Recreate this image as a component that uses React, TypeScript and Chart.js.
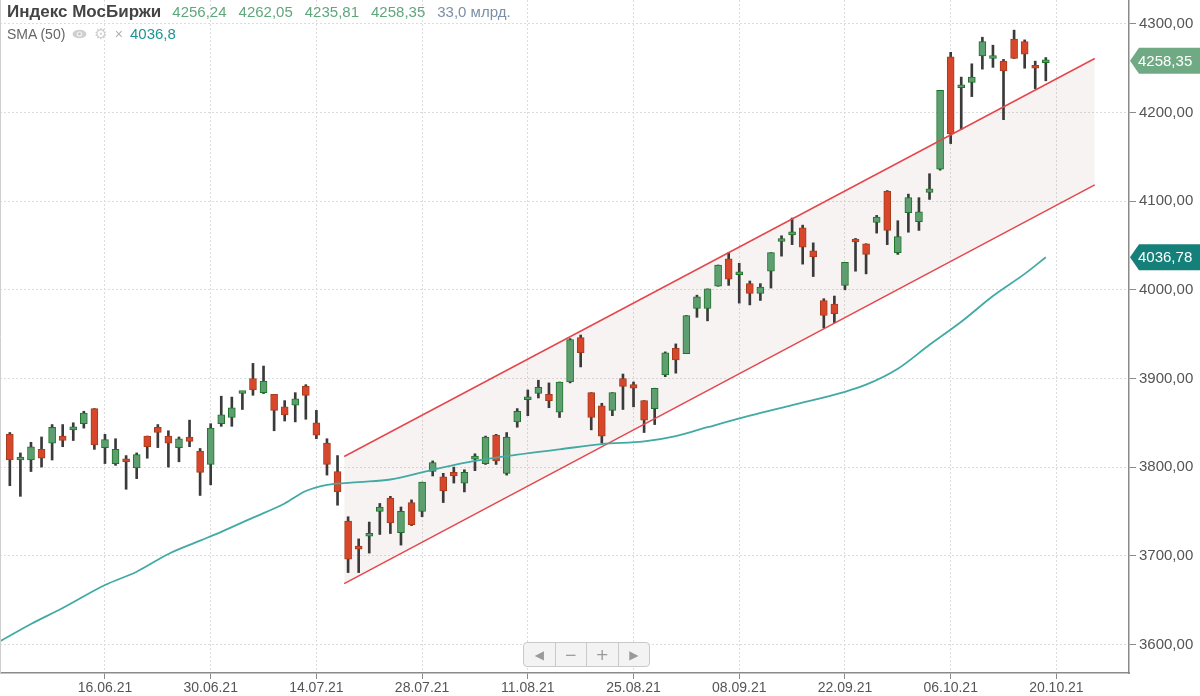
import { useEffect, useRef } from "react"
import { Chart, registerables } from "chart.js"

Chart.register(...registerables)

// trading days, index 0..99 (last one has no candle yet)
const dates = [
  "02.06.21", "03.06.21", "04.06.21", "07.06.21", "08.06.21", "09.06.21", "10.06.21", "11.06.21", "15.06.21", "16.06.21",
  "17.06.21", "18.06.21", "21.06.21", "22.06.21", "23.06.21", "24.06.21", "25.06.21", "28.06.21", "29.06.21", "30.06.21",
  "01.07.21", "02.07.21", "05.07.21", "06.07.21", "07.07.21", "08.07.21", "09.07.21", "12.07.21", "13.07.21", "14.07.21",
  "15.07.21", "16.07.21", "19.07.21", "20.07.21", "21.07.21", "22.07.21", "23.07.21", "26.07.21", "27.07.21", "28.07.21",
  "29.07.21", "30.07.21", "02.08.21", "03.08.21", "04.08.21", "05.08.21", "06.08.21", "09.08.21", "10.08.21", "11.08.21",
  "12.08.21", "13.08.21", "16.08.21", "17.08.21", "18.08.21", "19.08.21", "20.08.21", "23.08.21", "24.08.21", "25.08.21",
  "26.08.21", "27.08.21", "30.08.21", "31.08.21", "01.09.21", "02.09.21", "03.09.21", "06.09.21", "07.09.21", "08.09.21",
  "09.09.21", "10.09.21", "13.09.21", "14.09.21", "15.09.21", "16.09.21", "17.09.21", "20.09.21", "21.09.21", "22.09.21",
  "23.09.21", "24.09.21", "27.09.21", "28.09.21", "29.09.21", "30.09.21", "01.10.21", "04.10.21", "05.10.21", "06.10.21",
  "07.10.21", "08.10.21", "11.10.21", "12.10.21", "13.10.21", "14.10.21", "15.10.21", "18.10.21", "19.10.21", "20.10.21",
]

const opens = [
  3837, 3808, 3808, 3820, 3827, 3835, 3842, 3849, 3866, 3822,
  3804, 3809, 3799, 3835, 3845, 3835, 3822, 3834, 3818, 3803,
  3849, 3856, 3883, 3900, 3884, 3882, 3868, 3870, 3891, 3850,
  3827, 3795, 3739, 3710, 3722, 3750, 3765, 3726, 3760, 3750,
  3795, 3789, 3794, 3782, 3809, 3804, 3836, 3793, 3851, 3876,
  3883, 3882, 3862, 3896, 3946, 3884, 3869, 3864, 3900, 3893,
  3875, 3866, 3904, 3934, 3928, 3979, 3979, 4004, 4035, 4017,
  4007, 3996, 4021, 4054.5, 4062, 4070, 4044, 3988, 3984, 4005,
  4057, 4052, 4076, 4111, 4042, 4087, 4077, 4110, 4136, 4263,
  4228, 4234, 4264, 4261, 4258, 4283, 4280, 4251.5, 4256.24,
]
const highs = [
  3839, 3816, 3828, 3834, 3848, 3848, 3850, 3863, 3866, 3837,
  3832, 3813, 3816, 3835, 3848, 3841, 3834, 3853, 3821, 3849,
  3880, 3879, 3885, 3917, 3914, 3882, 3875, 3884, 3893, 3864,
  3832, 3813, 3744, 3719, 3738, 3759, 3767, 3755, 3763, 3783,
  3807, 3793, 3800, 3797, 3815, 3835, 3837, 3839, 3866, 3887,
  3898, 3895, 3896, 3945, 3949, 3884, 3872, 3884, 3905, 3896,
  3875, 3889, 3930, 3939, 3971, 3994, 4001, 4028, 4042, 4030,
  4010, 4007, 4042, 4061, 4081, 4073, 4053, 3990, 3993, 4031,
  4058, 4052, 4084, 4112, 4078, 4108, 4104, 4131, 4225, 4268,
  4240, 4255, 4285, 4276, 4260, 4293, 4282, 4258, 4262.05,
]
const lows = [
  3779, 3767, 3795, 3800, 3808, 3823, 3830, 3844, 3820, 3804,
  3802, 3775, 3787, 3810, 3822, 3800, 3806, 3823, 3768, 3780,
  3846, 3846, 3865, 3881, 3883, 3841, 3852, 3851, 3854, 3832,
  3791, 3757, 3681, 3681, 3703, 3724, 3725, 3712, 3734, 3744,
  3790, 3760, 3782, 3772, 3796, 3803, 3803, 3791, 3845, 3858,
  3878, 3867, 3856, 3895, 3913, 3842, 3827, 3858, 3865, 3868,
  3839, 3848, 3902, 3906, 3928, 3969, 3965, 4004, 4005, 3985,
  3983, 3988, 4002, 4038, 4051, 4029, 4015, 3957, 3963, 4000,
  4021, 4018, 4064, 4051, 4040, 4065, 4067, 4102, 4135, 4165,
  4181, 4218, 4249, 4251, 4192, 4261, 4250, 4227, 4235.81,
]
const closes = [
  3808, 3809, 3823, 3810, 3845, 3830, 3843, 3861, 3825, 3831,
  3820, 3806, 3814, 3823, 3839, 3827, 3832, 3829, 3794, 3844,
  3859, 3867, 3884, 3887, 3897, 3864, 3859, 3877, 3881, 3836,
  3803, 3772, 3696, 3707.5, 3723, 3755, 3737, 3750, 3735, 3783,
  3805, 3773, 3790, 3794, 3810, 3834, 3807, 3834, 3863, 3877,
  3890, 3875, 3896, 3944, 3929, 3856, 3835, 3884, 3891, 3889,
  3853, 3889, 3929, 3921, 3971, 3992, 4001, 4028, 4012, 4018,
  3996, 4003, 4042, 4055.6, 4065, 4048, 4037, 3971, 3973, 4031,
  4054, 4040, 4082, 4067, 4060, 4104, 4088, 4114, 4225, 4176,
  4229, 4240, 4280, 4264, 4247, 4261, 4266, 4250, 4258.35,
]

// SMA(50) at these day indices
const smaIdx = [-1, 2, 5, 9, 12, 15, 18, 20, 23, 26, 28, 30, 33, 36, 40, 44, 48, 52, 56, 60, 63, 66, 70, 74, 79, 81, 84, 87, 90, 93, 96, 98]
const smaVals = [
  3603, 3623, 3641, 3667, 3682, 3702, 3717, 3727, 3743, 3759, 3773, 3780, 3783, 3786, 3797, 3807,
  3814, 3820, 3826, 3829, 3835, 3845, 3858, 3870, 3885, 3893, 3911, 3938, 3964, 3993, 4018, 4036.78,
]

// trend channel
const channelIdx = [31.63, 102.63]
const channelUpper = [3812, 4261]
const channelLower = [3668.5, 4118.5]

const xTickIdx = [9, 19, 29, 39, 49, 59, 69, 79, 89, 99]
const yTicks = [3600, 3700, 3800, 3900, 4000, 4100, 4200, 4300]

const lastClose = 4258.35
const lastSma = 4036.78

const FONT = "'Liberation Sans', Arial, sans-serif"
const UP_FILL = "#5e9f72"
const UP_LINE = "#1e7426"
const DOWN_FILL = "#d8472b"
const DOWN_LINE = "#a53c1c"

const fmt = (v: number) => v.toFixed(2).replace(".", ",")

const framePlugin = {
  id: "frame",
  afterDraw(chart: any) {
    const { ctx, chartArea, scales } = chart
    ctx.save()
    // left border of the plot
    ctx.strokeStyle = "#cfcfcf"
    ctx.lineWidth = 1
    ctx.beginPath()
    ctx.moveTo(0.5, chartArea.top)
    ctx.lineTo(0.5, chartArea.bottom)
    ctx.stroke()

    // price badges on the right axis
    const ys = scales.y
    const left = ys.left + 1
    const badge = (value: number, color: string) => {
      const py = ys.getPixelForValue(value)
      ctx.fillStyle = color
      ctx.beginPath()
      ctx.moveTo(left, py)
      ctx.lineTo(left + 9, py - 13)
      ctx.lineTo(chart.width, py - 13)
      ctx.lineTo(chart.width, py + 13)
      ctx.lineTo(left + 9, py + 13)
      ctx.closePath()
      ctx.fill()
      ctx.fillStyle = "#ffffff"
      ctx.font = "15px " + FONT
      ctx.textBaseline = "middle"
      ctx.textAlign = "left"
      ctx.fillText(fmt(value), left + 8, py + 1)
    }
    badge(lastClose, "#70aa84")
    badge(lastSma, "#15807a")
    ctx.restore()
  },
}

export default function App() {
  const chartRef = useRef<HTMLCanvasElement>(null)
  const chartInstance = useRef<Chart | null>(null)

  useEffect(() => {
    document.body.style.margin = "0"
    if (!chartRef.current) return
    if (chartInstance.current) chartInstance.current.destroy()

    const ctx = chartRef.current.getContext("2d")
    if (!ctx) return

    const bodies = opens.map((o, i) => ({ x: i, y: [o, closes[i]] }))
    const wicks = lows.map((l, i) => ({ x: i, y: [l, highs[i]] }))
    const isUp = opens.map((o, i) => closes[i] >= o)

    chartInstance.current = new Chart(ctx, {
      type: "bar",
      data: {
        datasets: [
          {
            type: "line",
            data: smaIdx.map((x, i) => ({ x, y: smaVals[i] })),
            borderColor: "#42aaa4",
            borderWidth: 1.8,
            pointRadius: 0,
            cubicInterpolationMode: "monotone",
            order: 0,
          } as any,
          {
            type: "line",
            data: channelIdx.map((x, i) => ({ x, y: channelUpper[i] })),
            borderColor: "#e4474c",
            borderWidth: 1.5,
            pointRadius: 0,
            fill: "+1",
            backgroundColor: "rgba(190,140,140,0.1)",
            order: 1,
          } as any,
          {
            type: "line",
            data: channelIdx.map((x, i) => ({ x, y: channelLower[i] })),
            borderColor: "#e4474c",
            borderWidth: 1.5,
            pointRadius: 0,
            fill: false,
            order: 2,
          } as any,
          {
            data: bodies,
            backgroundColor: isUp.map((u) => (u ? UP_FILL : DOWN_FILL)),
            borderColor: isUp.map((u) => (u ? UP_LINE : DOWN_LINE)),
            borderWidth: 1,
            borderSkipped: false,
            barThickness: 7,
            minBarLength: 3,
            grouped: false,
            order: 3,
          } as any,
          {
            data: wicks,
            backgroundColor: "#3a3a3a",
            borderWidth: 0,
            barThickness: 2,
            grouped: false,
            order: 4,
          } as any,
        ],
      },
      options: {
        animation: false,
        responsive: true,
        maintainAspectRatio: false,
        events: [],
        layout: { padding: 0 },
        plugins: {
          legend: { display: false },
          tooltip: { enabled: false },
          filler: { drawTime: "beforeDatasetsDraw" },
        },
        scales: {
          x: {
            type: "linear",
            min: -0.93,
            max: 105.87,
            offset: false,
            afterBuildTicks: (scale: any) => {
              scale.ticks = xTickIdx.map((v) => ({ value: v }))
            },
            afterFit: (scale: any) => {
              scale.height = 23
              scale.paddingLeft = 0
              scale.paddingRight = 0
            },
            ticks: {
              autoSkip: false,
              maxRotation: 0,
              padding: 1,
              color: "#555",
              font: { family: FONT, size: 14 },
              callback: (v: any) => dates[v as number] ?? "",
            },
            grid: {
              offset: false,
              color: "#dcdcdc",
              tickColor: "#8a8a8a",
              tickLength: 6,
            },
            border: { color: "#8a8a8a", width: 1.5, dash: [2, 2] },
          },
          y: {
            position: "right",
            min: 3567.7,
            max: 4327,
            afterBuildTicks: (scale: any) => {
              scale.ticks = yTicks.map((v) => ({ value: v }))
            },
            afterFit: (scale: any) => {
              scale.width = 71
              scale.paddingTop = 0
              scale.paddingBottom = 0
            },
            ticks: {
              padding: 3,
              color: "#555",
              font: { family: FONT, size: 15 },
              callback: (v: any) => fmt(Number(v)),
            },
            grid: {
              color: "#dcdcdc",
              tickColor: "#8a8a8a",
              tickLength: 7,
            },
            border: { color: "#8a8a8a", width: 1.5, dash: [2, 2] },
          },
        },
      } as any,
      plugins: [framePlugin],
    })

    return () => {
      if (chartInstance.current) {
        chartInstance.current.destroy()
        chartInstance.current = null
      }
    }
  }, [])

  const navBtn = {
    flex: 1,
    display: "flex",
    alignItems: "center",
    justifyContent: "center",
    color: "#9a9a9a",
    fontSize: 12,
    fontFamily: "'DejaVu Sans', sans-serif",
  } as const

  return (
    <div style={{ position: "relative", width: 1200, height: 696, background: "#fff", overflow: "hidden" }}>
      <canvas ref={chartRef} />
      <div
        style={{
          position: "absolute",
          left: 7,
          top: 1,
          fontFamily: FONT,
          whiteSpace: "nowrap",
          pointerEvents: "none",
        }}
      >
        <div style={{ display: "flex", alignItems: "baseline", gap: 12, fontSize: 15, lineHeight: "22px" }}>
          <span style={{ color: "#444", fontWeight: "bold", fontSize: 17, marginRight: -1 }}>Индекс МосБиржи</span>
          <span style={{ color: "#5ea77b" }}>4256,24</span>
          <span style={{ color: "#5ea77b" }}>4262,05</span>
          <span style={{ color: "#5ea77b" }}>4235,81</span>
          <span style={{ color: "#5ea77b" }}>4258,35</span>
          <span style={{ color: "#7b8fa5" }}>33,0 млрд.</span>
        </div>
        <div style={{ display: "flex", alignItems: "center", gap: 7, fontSize: 14, lineHeight: "20px", marginTop: 1 }}>
          <span style={{ color: "#666" }}>SMA (50)</span>
          <svg width="15" height="10" viewBox="0 0 15 10">
            <ellipse cx="7.5" cy="5" rx="7" ry="4.3" fill="#d0d0d0" />
            <circle cx="7.5" cy="5" r="2.6" fill="#f4f4f4" />
            <circle cx="7.5" cy="5" r="1.4" fill="#c4c4c4" />
          </svg>
          <span style={{ color: "#cfcfcf", fontFamily: "'DejaVu Sans', sans-serif", fontSize: 15 }}>⚙</span>
          <span style={{ color: "#b0b0b0", fontSize: 14 }}>×</span>
          <span style={{ color: "#1b9690", fontSize: 15 }}>4036,8</span>
        </div>
      </div>
      <div
        style={{
          position: "absolute",
          left: 523,
          top: 642,
          width: 127,
          height: 25,
          display: "flex",
          border: "1px solid #c9c9c9",
          borderRadius: 4,
          background: "#f3f3f3",
          boxSizing: "border-box",
          overflow: "hidden",
        }}
      >
        <div style={{ ...navBtn, borderRight: "1px solid #c9c9c9" }}>◀</div>
        <div style={{ ...navBtn, borderRight: "1px solid #c9c9c9", fontSize: 15 }}>−</div>
        <div style={{ ...navBtn, borderRight: "1px solid #c9c9c9", fontSize: 16 }}>+</div>
        <div style={navBtn}>▶</div>
      </div>
    </div>
  )
}
